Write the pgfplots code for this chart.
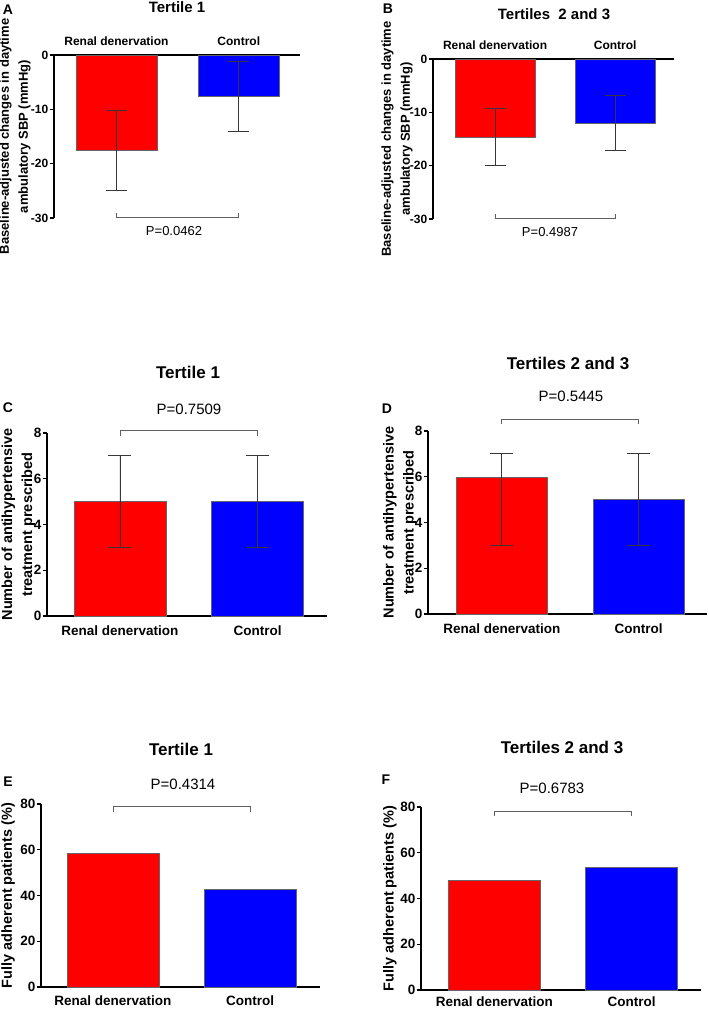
\documentclass[border=0pt]{standalone}
\usepackage{fontspec}
\setmainfont{Liberation Sans}
\usepackage{pgfplots}
\pgfplotsset{compat=1.18}
\definecolor{rdnred}{RGB}{255,0,0}
\definecolor{ctlblue}{RGB}{0,0,255}
\definecolor{errgray}{RGB}{55,55,55}
\definecolor{brgray}{RGB}{95,95,95}
\tikzset{br/.style={brgray, line width=0.8pt}}
\pgfplotsset{
  panel/.style={scale only axis, anchor=south west, clip=false,
    /pgf/number format/assume math mode=true,
    axis y line*=left, tick align=outside, major tick length=4pt,
    x tick style={draw=none}, y tick style={line width=1.2pt, black},
    axis line style={line width=1.2pt, black},
    xtick={0,1}, xticklabels={Renal denervation,Control},
    ylabel style={anchor=center, align=center},
    yticklabel style={inner sep=1.5pt},
  },
  smallp/.style={ticklabel style={font=\fontsize{12}{14}\selectfont\bfseries},
    xticklabel style={yshift=2pt},
    ylabel style={font=\fontsize{13}{19}\selectfont\bfseries}},
  largep/.style={ticklabel style={font=\fontsize{13.5}{16}\selectfont\bfseries},
    xticklabel style={yshift=-2pt},
    ylabel style={font=\fontsize{14.5}{20}\selectfont\bfseries}},
  redbar/.style={ybar, bar shift=0pt, fill=rdnred, draw=black!60, line width=0.5pt},
  bluebar/.style={ybar, bar shift=0pt, fill=ctlblue, draw=black!60, line width=0.5pt},
  eb/.style={error bars/y dir=both, error bars/y explicit,
    error bars/error bar style={errgray, line width=0.8pt},
    error bars/error mark options={errgray, rotate=90, mark size=#1, line width=0.8pt}},
}
\begin{document}
\begin{tikzpicture}
\useasboundingbox (0,0) rectangle (709pt,-1009pt);
% ---------- A ----------
\begin{axis}[panel, smallp, at={(54pt,-218pt)}, width=246pt, height=163pt,
  xmin=-0.51, xmax=1.5, ymin=-30, ymax=0, axis x line*=top,
  ytick={-30,-20,-10,0}, yticklabels={-30,-20,-10,0},
  ylabel={Baseline-adjusted changes in daytime\\ambulatory SBP (mmHg)},
  ylabel style={at={(axis description cs:-0.1585,0.5)}}]
\addplot[redbar, bar width=0.66, eb=10.5pt] coordinates {(0,-17.6) += (0,7.4) -= (0,7.4)};
\addplot[bluebar, bar width=0.66, eb=10.5pt] coordinates {(1,-7.5) += (0,6.4) -= (0,6.5)};
\draw[br] (axis cs:0,-29.0) -- (axis cs:0,-29.8) -- (axis cs:1,-29.8) -- (axis cs:1,-29.0);
\end{axis}
% ---------- B ----------
\begin{axis}[panel, smallp, at={(433pt,-219pt)}, width=241pt, height=160pt,
  xmin=-0.517, xmax=1.49, ymin=-30, ymax=0, axis x line*=top,
  ytick={-30,-20,-10,0}, yticklabels={-30,-20,-10,0},
  ylabel={Baseline-adjusted changes in daytime\\ambulatory SBP (mmHg)},
  ylabel style={at={(axis description cs:-0.149,0.5)}}]
\addplot[redbar, bar width=0.667, eb=10.5pt] coordinates {(0,-14.6) += (0,5.35) -= (0,5.3)};
\addplot[bluebar, bar width=0.667, eb=10.5pt] coordinates {(1,-12.1) += (0,5.3) -= (0,5.1)};
\draw[br] (axis cs:0,-29.1) -- (axis cs:0,-29.8) -- (axis cs:1,-29.8) -- (axis cs:1,-29.1);
\end{axis}
% ---------- C ----------
\begin{axis}[panel, largep, at={(47pt,-616pt)}, width=280pt, height=183pt,
  xmin=-0.53, xmax=1.505, ymin=0, ymax=8, axis x line*=bottom,
  ytick={0,2,4,6,8}, yticklabels={0,2,4,6,8},
  ylabel={Number of antihypertensive\\treatment prescribed},
  ylabel style={at={(axis description cs:-0.102,0.5)}}]
\addplot[redbar, bar width=0.67, eb=11.5pt] coordinates {(0,5) += (0,2) -= (0,2)};
\addplot[bluebar, bar width=0.67, eb=11.5pt] coordinates {(1,5) += (0,2) -= (0,2)};
\draw[br] (axis cs:0,7.88) -- (axis cs:0,8.12) -- (axis cs:1,8.12) -- (axis cs:1,7.88);
\end{axis}
% ---------- D ----------
\begin{axis}[panel, largep, at={(428pt,-614pt)}, width=279pt, height=183pt,
  xmin=-0.54, xmax=1.5, ymin=0, ymax=8, axis x line*=bottom,
  ytick={0,2,4,6,8}, yticklabels={0,2,4,6,8},
  ylabel={Number of antihypertensive\\treatment prescribed},
  ylabel style={at={(axis description cs:-0.101,0.5)}}]
\addplot[redbar, bar width=0.67, eb=11.5pt] coordinates {(0,6) += (0,1) -= (0,3)};
\addplot[bluebar, bar width=0.67, eb=11.5pt] coordinates {(1,5) += (0,2) -= (0,2)};
\draw[br] (axis cs:0,8.29) -- (axis cs:0,8.51) -- (axis cs:1,8.51) -- (axis cs:1,8.29);
\end{axis}
% ---------- E ----------
\begin{axis}[panel, largep, at={(41pt,-987pt)}, width=279pt, height=183pt,
  xmin=-0.525, xmax=1.51, ymin=0, ymax=80, axis x line*=bottom,
  ytick={0,20,40,60,80}, yticklabels={0,20,40,60,80},
  xticklabel style={yshift=1pt},
  ylabel={Fully adherent patients (\%)},
  ylabel style={at={(axis description cs:-0.118,0.5)}}]
\addplot[redbar, bar width=0.67] coordinates {(0,58.3)};
\addplot[bluebar, bar width=0.67] coordinates {(1,42.9)};
\draw[br] (axis cs:0,76.6) -- (axis cs:0,78.8) -- (axis cs:1,78.8) -- (axis cs:1,76.6);
\end{axis}
% ---------- F ----------
\begin{axis}[panel, largep, at={(421pt,-990pt)}, width=280pt, height=183pt,
  xmin=-0.536, xmax=1.507, ymin=0, ymax=80, axis x line*=bottom,
  ytick={0,20,40,60,80}, yticklabels={0,20,40,60,80},
  xticklabel style={yshift=3pt},
  ylabel={Fully adherent patients (\%)},
  ylabel style={at={(axis description cs:-0.111,0.5)}}]
\addplot[redbar, bar width=0.67] coordinates {(0,48.0)};
\addplot[bluebar, bar width=0.67] coordinates {(1,53.7)};
\draw[br] (axis cs:0,76.1) -- (axis cs:0,78.3) -- (axis cs:1,78.3) -- (axis cs:1,76.1);
\end{axis}
% ---------- titles, letters, p-values ----------
\begin{scope}[every node/.style={inner sep=0pt}]
\node[font=\fontsize{15}{18}\selectfont\bfseries] at (177pt,-7pt) {Tertile 1};
\node[font=\fontsize{15}{18}\selectfont\bfseries] at (554pt,-14.5pt) {Tertiles\ \ 2 and 3};
\node[font=\fontsize{17}{20}\selectfont\bfseries] at (188pt,-372pt) {Tertile 1};
\node[font=\fontsize{17}{20}\selectfont\bfseries] at (568pt,-363.5pt) {Tertiles 2 and 3};
\node[font=\fontsize{17}{20}\selectfont\bfseries] at (181pt,-749pt) {Tertile 1};
\node[font=\fontsize{17}{20}\selectfont\bfseries] at (562pt,-747.5pt) {Tertiles 2 and 3};
\node[font=\fontsize{14}{16}\selectfont\bfseries] at (8pt,-10pt) {A};
\node[font=\fontsize{14}{16}\selectfont\bfseries] at (388pt,-9pt) {B};
\node[font=\fontsize{14}{16}\selectfont\bfseries] at (8pt,-408pt) {C};
\node[font=\fontsize{14}{16}\selectfont\bfseries] at (387pt,-409pt) {D};
\node[font=\fontsize{14}{16}\selectfont\bfseries] at (8pt,-782pt) {E};
\node[font=\fontsize{14}{16}\selectfont\bfseries] at (386pt,-780pt) {F};
\node[font=\fontsize{13}{15}\selectfont] at (174pt,-231pt) {P=0.0462};
\node[font=\fontsize{13}{15}\selectfont] at (550pt,-232pt) {P=0.4987};
\node[font=\fontsize{15}{17}\selectfont] at (189pt,-409pt) {P=0.7509};
\node[font=\fontsize{15}{17}\selectfont] at (571pt,-396pt) {P=0.5445};
\node[font=\fontsize{15}{17}\selectfont] at (183pt,-784pt) {P=0.4314};
\node[font=\fontsize{15}{17}\selectfont] at (552pt,-788pt) {P=0.6783};
\end{scope}
\end{tikzpicture}
\end{document}
